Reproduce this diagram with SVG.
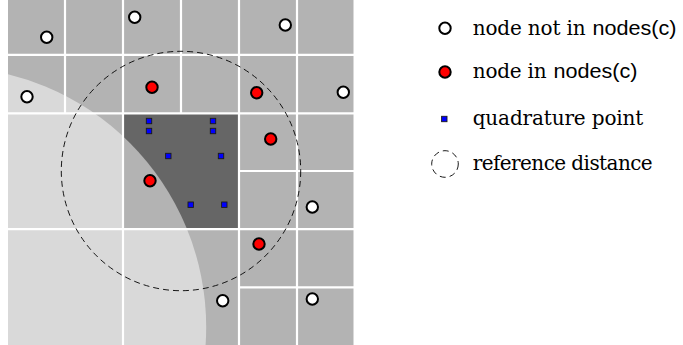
<svg xmlns="http://www.w3.org/2000/svg" width="683" height="345" viewBox="0 0 683 345">
<style>
.grid{stroke:#ffffff;stroke-width:2.2;fill:none}
.wn{fill:#ffffff;stroke:#000000;stroke-width:2}
.rn{fill:#ff0000;stroke:#000000;stroke-width:2}
.qp{fill:#0000ff;stroke:#1a1a1a;stroke-width:0.9}
.ref{fill:none;stroke:#000000;stroke-width:0.9;stroke-dasharray:6 4}
.lt{font-family:"DejaVu Serif","Liberation Serif",serif;font-size:20px;fill:#000000}
.ls{font-family:"Liberation Sans",Arial,sans-serif;font-size:21px;fill:#000000}
</style>
<rect width="683" height="345" fill="#ffffff"/>
<g id="cells">
<rect x="8" y="0" width="345.5" height="345" fill="#b3b3b3"/>
<rect x="123" y="113.3" width="116" height="116" fill="#666666"/>
</g>
<g id="domain">
<clipPath id="gclip"><rect x="8" y="0" width="345.5" height="345"/></clipPath>
<circle cx="-54.3" cy="327.2" r="260.5" fill="#ffffff" fill-opacity="0.5" clip-path="url(#gclip)"/>
</g>
<g id="gridlines" class="grid">
<line x1="65" y1="-2" x2="65" y2="113.3"/>
<line x1="123" y1="-2" x2="123" y2="347"/>
<line x1="181" y1="-2" x2="181" y2="113.3"/>
<line x1="239" y1="-2" x2="239" y2="347"/>
<line x1="297" y1="-2" x2="297" y2="347"/>
<line x1="6" y1="54.8" x2="356" y2="54.8"/>
<line x1="6" y1="113.3" x2="356" y2="113.3"/>
<line x1="239" y1="171" x2="356" y2="171"/>
<line x1="6" y1="229.2" x2="356" y2="229.2"/>
<line x1="239" y1="287.3" x2="356" y2="287.3"/>
</g>
<g id="reference-distance">
<circle class="ref" cx="181" cy="171" r="119.7"/>
</g>
<g id="quadrature-points">
<rect class="qp" x="146.3" y="118.3" width="5.4" height="5.4"/>
<rect class="qp" x="146.3" y="128.3" width="5.4" height="5.4"/>
<rect class="qp" x="210.3" y="118.3" width="5.4" height="5.4"/>
<rect class="qp" x="210.3" y="128.3" width="5.4" height="5.4"/>
<rect class="qp" x="165.6" y="153.3" width="5.4" height="5.4"/>
<rect class="qp" x="218.3" y="153.3" width="5.4" height="5.4"/>
<rect class="qp" x="188" y="202" width="5.4" height="5.4"/>
<rect class="qp" x="221.6" y="202" width="5.4" height="5.4"/>
</g>
<g id="nodes-in">
<circle class="rn" cx="152" cy="87.3" r="5.7"/>
<circle class="rn" cx="256.7" cy="92.7" r="5.7"/>
<circle class="rn" cx="270.7" cy="139" r="5.7"/>
<circle class="rn" cx="150" cy="180.7" r="5.7"/>
<circle class="rn" cx="259" cy="244" r="5.7"/>
</g>
<g id="nodes-out">
<circle class="wn" cx="46.7" cy="37.3" r="5.7"/>
<circle class="wn" cx="134.7" cy="17.3" r="5.7"/>
<circle class="wn" cx="285.3" cy="25" r="5.7"/>
<circle class="wn" cx="27" cy="96.7" r="5.7"/>
<circle class="wn" cx="343.3" cy="92.3" r="5.7"/>
<circle class="wn" cx="312.3" cy="207" r="5.7"/>
<circle class="wn" cx="222.7" cy="300.7" r="5.7"/>
<circle class="wn" cx="312.3" cy="299" r="5.7"/>
</g>
<g id="legend">
<g id="legend-not-in">
<circle class="wn" cx="445" cy="28.3" r="5.7"/>
<text class="lt" x="472.7" y="35" textLength="113" lengthAdjust="spacing">node not in</text>
<text class="ls" x="592.5" y="35" textLength="84" lengthAdjust="spacingAndGlyphs">nodes(c)</text>
</g>
<g id="legend-in">
<circle class="rn" cx="445" cy="72" r="5.7"/>
<text class="lt" x="472.7" y="78.3" textLength="74" lengthAdjust="spacing">node in</text>
<text class="ls" x="553.5" y="78.3" textLength="84" lengthAdjust="spacingAndGlyphs">nodes(c)</text>
</g>
<g id="legend-quad">
<rect class="qp" x="441.6" y="116.3" width="5.4" height="5.4"/>
<text class="lt" x="472.7" y="125" textLength="170.7" lengthAdjust="spacing">quadrature point</text>
</g>
<g id="legend-ref">
<circle class="ref" cx="445" cy="164" r="13.3" stroke-dasharray="5 3.5"/>
<text class="lt" x="472.7" y="170" textLength="180" lengthAdjust="spacing">reference distance</text>
</g>
</g>
</svg>
